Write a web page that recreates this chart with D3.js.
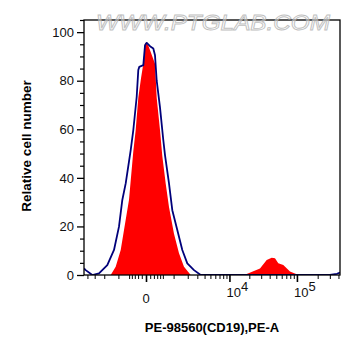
<!DOCTYPE html>
<html><head><meta charset="utf-8">
<script src="https://cdn.jsdelivr.net/npm/d3@7"></script>
<style>
html,body{margin:0;padding:0;background:#fff;}
svg{display:block;font-family:"Liberation Sans",Arial,sans-serif;}
</style></head>
<body>
<svg id="c" width="361" height="356"></svg>
<script>
// Sample (red, filled) histogram: [fluorescence, relative count]
const sampleX = [-1486,-1157,-877,-717,-505,-349,-272,-194,-120,-62,-22,53,232,284,394,479,615,764,1022,1328,1688,2276,8000,14484,18268,28800,36170,42830,47860,53500,63300,79270,99200,110700,421000];
const sampleY = [0,3.4,10.3,18.5,31,51,59.7,73,81,87,95.6,94.5,87,73,59.7,49,37.7,28,17,9,3.4,0,0,0,0.4,2.7,6.2,7.1,6.9,4.8,4.1,1.4,0.3,0,0];
// Control (navy outline) histogram
const controlX = [-4563,-4274,-3303,-2509,-1744,-1262,-968,-797,-641,-441,-349,-241,-194,-166,-62,-22,16,95,183,232,284,394,517,586,764,930,1218,1559,1961,2617,3435,300000,380000,421000];
const controlY = [2.7,2,0,0.7,4.1,10.3,19.9,30.9,37.7,51.4,59.7,73.4,84.4,85.7,86.4,94.6,95.6,94.2,93.3,90.5,80,69,55.6,49.4,37.7,26.7,18.5,10.3,4.8,2,0,0,0.5,1];
// Axis ticks
const yTicks = [0,20,40,60,80,100];
const yMinor = [5,10,15,25,30,35,45,50,55,65,70,75,85,90,95,105];
const xMinor = [-4000,-3000,-2000,-1000,-500,-400,-300,-200,-100,100,200,300,400,500,1000,2000,3000,4000,5000,6000,7000,8000,9000,20000,30000,40000,50000,60000,70000,80000,90000,200000,300000,400000];
const xMajor = [0,10000,100000];
const xMajorLabels = [{v:0,base:"0",exp:""},{v:10000,base:"10",exp:"4"},{v:100000,base:"10",exp:"5"}];
const xTitle = "PE-98560(CD19),PE-A";
const yTitle = "Relative cell number";
const watermark = "WWW.PTGLAB.COM";

const svg = d3.select("#c");
const L=84, R=340, T=20, B=275;
const x = d3.scaleSymlog().constant(665).domain([-4563,421000]).range([L,R]);
const y = d3.scaleLinear().domain([0,105]).range([B,T]);

const sample = sampleX.map((v,i)=>[v,sampleY[i]]);
const control = controlX.map((v,i)=>[v,controlY[i]]);

svg.append("clipPath").attr("id","pc").append("rect")
  .attr("x",L).attr("y",T).attr("width",R-L).attr("height",B-T);

const g = svg.append("g").attr("clip-path","url(#pc)");
g.append("path").datum(sample)
  .attr("fill","#ff0000")
  .attr("d",d3.area().x(d=>x(d[0])).y0(y(0)).y1(d=>y(d[1])));
g.append("path").datum(control)
  .attr("fill","none").attr("stroke","#00007a").attr("stroke-width",1.8)
  .attr("stroke-linejoin","round")
  .attr("d",d3.line().x(d=>x(d[0])).y(d=>y(d[1])));

// frame
svg.append("rect").attr("x",L).attr("y",T).attr("width",R-L).attr("height",B-T)
  .attr("fill","none").attr("stroke","#000").attr("stroke-width",1.3);

// y axis
const ya = svg.append("g").attr("transform",`translate(${L},0)`)
  .call(d3.axisLeft(y).tickValues(yTicks).tickSize(7).tickPadding(3));
ya.select(".domain").remove();
ya.selectAll("line").attr("stroke","#000").attr("stroke-width",1.3);
ya.selectAll("text").attr("font-size",13).attr("fill","#111").attr("font-family","Liberation Sans, Arial, sans-serif");
const yam = svg.append("g").attr("transform",`translate(${L},0)`)
  .call(d3.axisLeft(y).tickValues(yMinor).tickSize(4).tickFormat(""));
yam.select(".domain").remove();
yam.selectAll("line").attr("stroke","#000").attr("stroke-width",1.2);

// x axis
const xa = svg.append("g").attr("transform",`translate(0,${B})`)
  .call(d3.axisBottom(x).tickValues(xMajor).tickSize(7).tickFormat(""));
xa.select(".domain").remove();
xa.selectAll("line").attr("stroke","#000").attr("stroke-width",1.6);
const xam = svg.append("g").attr("transform",`translate(0,${B})`)
  .call(d3.axisBottom(x).tickValues(xMinor).tickSize(4).tickFormat(""));
xam.select(".domain").remove();
xam.selectAll("line").attr("stroke","#000").attr("stroke-width",1);

// x tick labels
xMajorLabels.forEach(t=>{
  if(t.exp===""){
    svg.append("text").attr("x",x(t.v)).attr("y",303).attr("text-anchor","middle")
      .attr("font-size",13).attr("fill","#111").text(t.base);
  } else {
    const tx = svg.append("text").attr("x",x(t.v)-3).attr("y",297)
      .attr("font-size",13).attr("fill","#111");
    tx.append("tspan").text(t.base);
    tx.append("tspan").attr("dy",-6).attr("font-size",13).text(t.exp);
  }
});

// titles
svg.append("text").attr("x",212).attr("y",332).attr("text-anchor","middle")
  .attr("font-size",13).attr("font-weight","bold").attr("fill","#000").text(xTitle);
svg.append("text").attr("transform","translate(31,146) rotate(-90)")
  .attr("text-anchor","middle").attr("font-size",13.5).attr("font-weight","bold")
  .attr("fill","#000").text(yTitle);

// watermark
svg.append("text").attr("x",96).attr("y",30).attr("textLength",234)
  .attr("lengthAdjust","spacingAndGlyphs")
  .attr("font-size",22).attr("font-style","italic")
  .attr("fill","#ffffff").attr("fill-opacity",0.5)
  .attr("stroke","#b5b5b5").attr("stroke-width",0.9).attr("opacity",0.85)
  .text(watermark);
</script>
</body></html>
